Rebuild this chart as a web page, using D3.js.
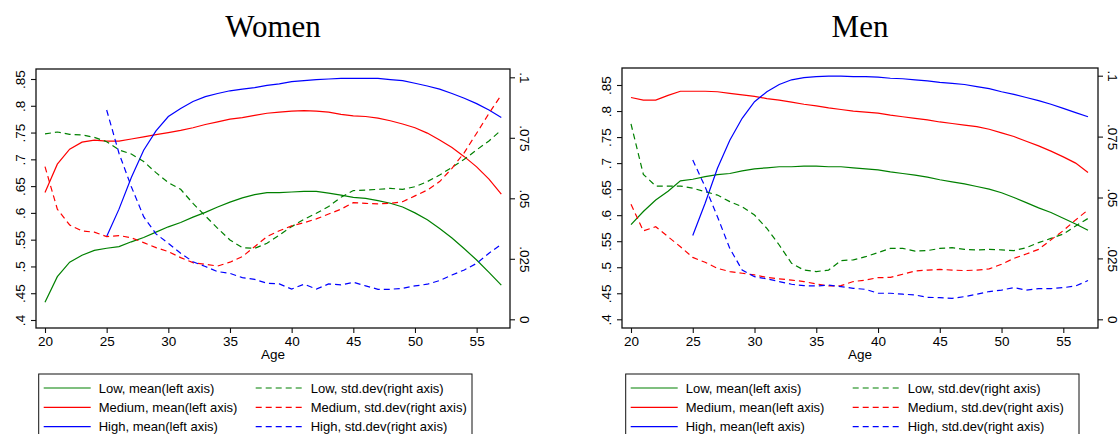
<!DOCTYPE html>
<meta charset="utf-8">
<style>
  body { margin: 0; background: #fff; }
  text { font-family: 'Liberation Sans', Arial, sans-serif; fill: #000; }
  .title { font-family: 'Liberation Serif', 'Times New Roman', serif; font-size: 31px; }
  .axis text { font-size: 13.5px; }
  .axis line { stroke: #111; stroke-width: 1.1; }
  .legend text { font-size: 13px; }
</style>
<body>
<svg id="chart" width="1119" height="434"></svg>
<script src="https://cdn.jsdelivr.net/npm/d3@7"></script>
<script>
// ages 20..57
var ages = [20,21,22,23,24,25,26,27,28,29,30,31,32,33,34,35,36,37,38,39,
            40,41,42,43,44,45,46,47,48,49,50,51,52,53,54,55,56,57];

var xTicks = [20,25,30,35,40,45,50,55];
var leftTicks = [0.4,0.45,0.5,0.55,0.6,0.65,0.7,0.75,0.8,0.85];
var rightTicks = [0,0.025,0.05,0.075,0.1];

// Women, mean (left axis)
var womenLowMean = [0.433,0.481,0.508,0.521,0.530,0.534,0.537,0.546,0.554,0.564,
  0.574,0.582,0.592,0.601,0.611,0.620,0.628,0.634,0.638,0.638,
  0.639,0.640,0.640,0.637,0.633,0.629,0.627,0.623,0.618,0.611,
  0.600,0.587,0.571,0.553,0.533,0.512,0.489,0.465];
var womenMedMean = [0.638,0.691,0.719,0.732,0.736,0.734,0.734,0.738,0.742,0.746,
  0.750,0.754,0.759,0.765,0.770,0.775,0.778,0.782,0.786,0.788,
  0.790,0.791,0.790,0.788,0.784,0.781,0.780,0.777,0.772,0.766,
  0.759,0.749,0.736,0.722,0.705,0.686,0.663,0.635];
var womenHighMean = [null,null,null,null,null,0.556,0.607,0.666,0.717,0.753,
  0.780,0.795,0.808,0.817,0.823,0.828,0.831,0.834,0.838,0.841,
  0.845,0.847,0.849,0.850,0.851,0.851,0.851,0.851,0.849,0.847,
  0.842,0.837,0.831,0.823,0.814,0.804,0.792,0.778];
// Women, std.dev (right axis)
var womenLowSd = [0.0766,0.0774,0.0764,0.0762,0.0752,0.0734,0.0700,0.0683,0.0652,0.0606,
  0.0565,0.0537,0.0479,0.0427,0.0376,0.0328,0.0296,0.0293,0.0314,0.0348,
  0.0383,0.0413,0.0438,0.0466,0.0504,0.0532,0.0534,0.0537,0.0541,0.0537,
  0.0548,0.0569,0.0596,0.0628,0.0661,0.0700,0.0737,0.0782];
var womenMedSd = [0.0631,0.0455,0.0390,0.0365,0.0360,0.0342,0.0346,0.0337,0.0317,0.0296,
  0.0280,0.0255,0.0234,0.0227,0.0220,0.0236,0.0259,0.0300,0.0342,0.0366,
  0.0386,0.0399,0.0415,0.0435,0.0455,0.0482,0.0479,0.0477,0.0479,0.0486,
  0.0510,0.0534,0.0569,0.0624,0.0689,0.0769,0.0851,0.0927];
var womenHighSd = [null,null,null,null,null,0.0865,0.0686,0.0548,0.0424,0.0353,
  0.0314,0.0273,0.0238,0.0218,0.0197,0.0190,0.0172,0.0165,0.0149,0.0146,
  0.0125,0.0145,0.0125,0.0146,0.0142,0.0153,0.0138,0.0124,0.0124,0.0128,
  0.0138,0.0145,0.0160,0.0183,0.0204,0.0231,0.0273,0.0310];

// Men, mean (left axis)
var menLowMean = [0.582,0.607,0.629,0.646,0.666,0.669,0.674,0.678,0.680,0.685,
  0.689,0.691,0.693,0.693,0.694,0.694,0.693,0.693,0.691,0.689,
  0.687,0.683,0.680,0.677,0.673,0.668,0.664,0.660,0.655,0.650,
  0.643,0.634,0.624,0.614,0.605,0.594,0.583,0.571];
var menMedMean = [0.826,0.821,0.821,0.830,0.838,0.838,0.838,0.837,0.834,0.831,
  0.828,0.824,0.821,0.817,0.813,0.810,0.806,0.803,0.800,0.798,
  0.796,0.792,0.789,0.786,0.783,0.779,0.776,0.773,0.770,0.765,
  0.758,0.751,0.742,0.733,0.723,0.712,0.700,0.682];
var menHighMean = [null,null,null,null,null,0.561,0.623,0.690,0.744,0.786,
  0.818,0.837,0.851,0.860,0.864,0.866,0.867,0.867,0.866,0.866,
  0.865,0.863,0.862,0.860,0.858,0.855,0.853,0.851,0.847,0.843,
  0.837,0.832,0.826,0.820,0.813,0.805,0.797,0.789];
// Men, std.dev (right axis)
var menLowSd = [0.0802,0.0595,0.0547,0.0547,0.0547,0.0538,0.0524,0.0510,0.0483,0.0462,
  0.0428,0.0373,0.0305,0.0230,0.0202,0.0196,0.0202,0.0241,0.0244,0.0257,
  0.0274,0.0291,0.0291,0.0280,0.0282,0.0291,0.0294,0.0287,0.0285,0.0287,
  0.0285,0.0282,0.0294,0.0315,0.0332,0.0350,0.0383,0.0414];
var menMedSd = [0.0472,0.0363,0.0380,0.0339,0.0298,0.0254,0.0234,0.0209,0.0196,0.0189,
  0.0182,0.0172,0.0166,0.0161,0.0155,0.0145,0.0137,0.0138,0.0155,0.0161,
  0.0171,0.0172,0.0185,0.0198,0.0202,0.0205,0.0202,0.0200,0.0202,0.0207,
  0.0226,0.0250,0.0268,0.0287,0.0326,0.0364,0.0408,0.0449];
var menHighSd = [null,null,null,null,null,0.0654,0.0544,0.0421,0.0291,0.0202,
  0.0175,0.0166,0.0155,0.0144,0.0138,0.0137,0.0140,0.0134,0.0127,0.0123,
  0.0107,0.0107,0.0103,0.0100,0.0090,0.0089,0.0086,0.0093,0.0103,0.0114,
  0.0120,0.0130,0.0120,0.0126,0.0126,0.0130,0.0137,0.0159];

var groupNames = ["Low","Medium","High"];
var colors = ["#008000","#ff0000","#0000ff"];

var panels = [
  { title: "Women", frame: [36,510,69,328], xr: [45,501.3], yl: [320,79], yr: [319.3,77.3],
    legendX: 38.7, col2: 217,
    means: [womenLowMean, womenMedMean, womenHighMean], sds: [womenLowSd, womenMedSd, womenHighSd] },
  { title: "Men", frame: [622,1098,68,328], xr: [631,1088], yl: [319.3,85], yr: [319.3,75.7],
    legendX: 625.7, col2: 227,
    means: [menLowMean, menMedMean, menHighMean], sds: [menLowSd, menMedSd, menHighSd] }
];

var svg = d3.select("#chart");
var fmt = function(d) { return d === 0 ? "0" : String(d).replace(/^0/, ""); };

panels.forEach(function(p) {
  var f = p.frame, mid = (f[0] + f[1]) / 2;
  var x = d3.scaleLinear().domain([20,57]).range(p.xr);
  var yL = d3.scaleLinear().domain([0.4,0.85]).range(p.yl);
  var yR = d3.scaleLinear().domain([0,0.1]).range(p.yr);

  svg.append("text").attr("class","title").attr("x",mid).attr("y",37)
    .attr("text-anchor","middle").text(p.title);

  var g = svg.append("g");

  // axes
  var ax = g.append("g").attr("class","axis").attr("transform","translate(" + f[0] + ",0)")
    .call(d3.axisLeft(yL).tickValues(leftTicks).tickFormat(fmt).tickSize(5));
  ax.select(".domain").remove();
  ax.selectAll("text").attr("x",null).attr("dy",null).attr("text-anchor","middle")
    .attr("transform","translate(-11,0) rotate(-90)");

  var ar = g.append("g").attr("class","axis").attr("transform","translate(" + f[1] + ",0)")
    .call(d3.axisRight(yR).tickValues(rightTicks).tickFormat(fmt).tickSize(5));
  ar.select(".domain").remove();
  ar.selectAll("text").attr("x",null).attr("dy",null).attr("text-anchor","middle")
    .attr("transform","translate(10,0) rotate(90)");

  var axb = g.append("g").attr("class","axis").attr("transform","translate(0," + f[3] + ")")
    .call(d3.axisBottom(x).tickValues(xTicks).tickFormat(d3.format("d")).tickSize(5));
  axb.select(".domain").remove();
  axb.selectAll("text").attr("y",18).attr("dy",null);

  g.append("text").attr("x",mid).attr("y",359).attr("text-anchor","middle")
    .style("font-size","13.5px").text("Age");

  // lines
  var lineL = d3.line().defined(function(d) { return d[1] != null; })
    .x(function(d) { return x(d[0]); }).y(function(d) { return yL(d[1]); });
  var lineR = d3.line().defined(function(d) { return d[1] != null; })
    .x(function(d) { return x(d[0]); }).y(function(d) { return yR(d[1]); });

  p.means.forEach(function(s, i) {
    g.append("path").datum(ages.map(function(a, k) { return [a, s[k]]; }))
      .attr("d", lineL).attr("fill","none").attr("stroke",colors[i]).attr("stroke-width",1.2);
  });
  p.sds.forEach(function(s, i) {
    g.append("path").datum(ages.map(function(a, k) { return [a, s[k]]; }))
      .attr("d", lineR).attr("fill","none").attr("stroke",colors[i]).attr("stroke-width",1.2)
      .attr("stroke-dasharray","6,4");
  });

  // frame
  g.append("rect").attr("x",f[0]).attr("y",f[2]).attr("width",f[1]-f[0]).attr("height",f[3]-f[2])
    .attr("fill","none").attr("stroke","#111").attr("stroke-width",1.3);

  // legend
  var lg = svg.append("g").attr("class","legend");
  lg.append("rect").attr("x",p.legendX).attr("y",374).attr("width",p.col2 === 217 ? 433.3 : 453.3)
    .attr("height",80).attr("fill","none").attr("stroke","#111").attr("stroke-width",1);
  groupNames.forEach(function(name, i) {
    var yy = 388 + i * 19.3;
    lg.append("line").attr("x1",p.legendX+5).attr("x2",p.legendX+52).attr("y1",yy).attr("y2",yy)
      .attr("stroke",colors[i]).attr("stroke-width",1.2);
    lg.append("text").attr("x",p.legendX+60).attr("y",yy+4.5).text(name + ", mean(left axis)");
    lg.append("line").attr("x1",p.legendX+p.col2).attr("x2",p.legendX+p.col2+47).attr("y1",yy).attr("y2",yy)
      .attr("stroke",colors[i]).attr("stroke-width",1.2).attr("stroke-dasharray","6,4");
    lg.append("text").attr("x",p.legendX+p.col2+55).attr("y",yy+4.5).text(name + ", std.dev(right axis)");
  });
});
</script>
</body>
